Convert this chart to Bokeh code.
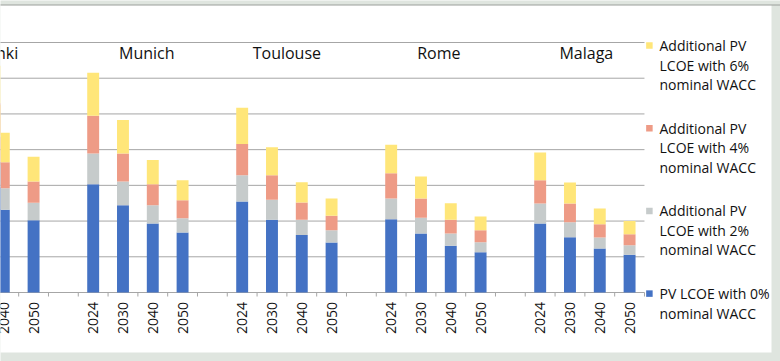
import math
from bokeh.plotting import figure
from bokeh.models import Range1d, ColumnDataSource
from bokeh.core.properties import value
from bokeh.embed import file_html
from bokeh.resources import INLINE

# ---------------- data ----------------
cities = ["Helsinki", "Munich", "Toulouse", "Rome", "Malaga"]
years = ["2024", "2030", "2040", "2050"]

# PV LCOE with 0% nominal WACC (city by city, years in the order above)
pv_0 = [36.5, 29.5, 23.2, 20.2,
        30.3, 24.4, 19.3, 16.8,
        25.5, 20.4, 16.1, 14.0,
        20.5, 16.5, 13.1, 11.3,
        19.3, 15.5, 12.3, 10.6]
# Additional LCOE with 2% nominal WACC
add_2 = [7.5, 6.3, 6.0, 4.9,
         8.6, 6.7, 5.1, 4.0,
         7.3, 5.6, 4.3, 3.4,
         5.8, 4.4, 3.4, 2.8,
         5.6, 4.2, 3.1, 2.6]
# Additional LCOE with 4% nominal WACC
add_4 = [9.0, 7.8, 7.3, 6.0,
         10.6, 7.8, 5.9, 5.0,
         8.8, 6.8, 4.8, 4.1,
         7.1, 5.4, 3.9, 3.3,
         6.5, 5.2, 3.7, 3.1]
# Additional LCOE with 6% nominal WACC
add_6 = [10.5, 9.0, 8.2, 6.9,
         12.0, 9.4, 6.8, 5.6,
         10.1, 7.9, 5.7, 4.8,
         8.0, 6.2, 4.6, 3.9,
         7.8, 5.9, 4.4, 3.7]

# legend entries, top to bottom
legend_lines = [["Additional PV", "LCOE with 6%", "nominal WACC"],
                ["Additional PV", "LCOE with 4%", "nominal WACC"],
                ["Additional PV", "LCOE with 2%", "nominal WACC"],
                ["PV LCOE with 0%", "nominal WACC"]]
y_ticks = [0, 10, 20, 30, 40, 50, 60, 70]

# ---------------- styling / layout ----------------
colors = ["#4472C4", "#C6CBCB", "#EE9B86", "#FFE679"]   # 0%, 2%, 4%, 6%
FONT = "Open Sans"
TXT = "#111111"
GRID = "#a6a6a6"
BG = "#dfe5df"
W, H = 780, 361
PX = 29.8                 # pixels per category slot
PY = 251 / 70.28          # pixels per value unit
X0 = 1.89                 # slot value at the left edge
BASE = 292                # pixel row of the value 0
slots_per_city = len(years) + 1            # 4 bars + one empty slot
x_end = len(cities) * slots_per_city - 1.5 # right edge of the plotting area
label_shift = [0.0, 0.3, 0.0, 0.1, 0.05]   # visual offsets of city captions


def sx(px):   # screen x -> slot units (for decorations / legend only)
    return X0 + px / PX


def sy(py):   # screen y (from top) -> value units
    return (BASE - py) / PY


xs, year_lab = [], []
for ci, c in enumerate(cities):
    for yi, y in enumerate(years):
        xs.append(ci * slots_per_city + yi)
        year_lab.append(y)

src = ColumnDataSource(dict(x=xs, pv_0=pv_0, add_2=add_2, add_4=add_4, add_6=add_6))

p = figure(width=W, height=H,
           x_range=Range1d(sx(0), sx(W)), y_range=Range1d(sy(H), sy(0)),
           output_backend="svg", toolbar_location=None,
           min_border_left=0, min_border_right=0,
           min_border_top=0, min_border_bottom=0)
p.axis.visible = False
p.grid.visible = False
p.outline_line_color = None
p.background_fill_color = BG
p.border_fill_color = BG

# white chart sheet with a thin top border (decoration)
p.quad(left=sx(0) - 1, right=sx(771), top=sy(4.5), bottom=sy(352),
       fill_color="white", line_color=None)
p.segment(x0=sx(0) - 1, x1=sx(W) + 1, y0=sy(4.5), y1=sy(4.5),
          line_color="#9a9e9a", line_width=1)

# horizontal grid lines
p.segment(x0=[sx(0) - 1] * len(y_ticks), x1=[x_end] * len(y_ticks),
          y0=y_ticks, y1=y_ticks, line_color=GRID, line_width=1)

# category tick marks on the boundaries between slots
bounds = [k + 0.5 for k in range(1, slots_per_city * len(cities) - 1)]
p.segment(x0=bounds, x1=bounds, y0=[0] * len(bounds), y1=[-4 / PY] * len(bounds),
          line_color=GRID, line_width=1)

# stacked bars
rs = p.vbar_stack(["pv_0", "add_2", "add_4", "add_6"], x="x", width=0.40,
                  color=colors, line_color=None, source=src)

# year labels (rotated, reading upwards) for the categories inside the view
vis = [k for k, x in enumerate(xs) if x > sx(0) - 0.5]
p.text(x=[xs[k] for k in vis], y=[-9.4 / PY] * len(vis),
       text=[year_lab[k] for k in vis], angle=math.pi / 2,
       text_font=value(FONT), text_font_size="14px", text_color=TXT,
       text_align="right", text_baseline="middle")

# city captions
cap_x = [ci * slots_per_city + (len(years) - 1) / 2 + label_shift[ci]
         for ci in range(len(cities))]
p.text(x=cap_x, y=[67.2] * len(cities), text=cities,
       text_font=value(FONT), text_font_size="16px", text_color=TXT,
       text_align="center", text_baseline="middle")

# legend
top, pitch, line_h = 45.0, 82.7, 19.5
kx, ky, kc, tx, ty, tt = [], [], [], [], [], []
for i, lines in enumerate(legend_lines):
    yc = top + i * pitch
    kx.append(sx(648.9))
    ky.append(sy(yc))
    kc.append(colors[len(colors) - 1 - i])
    for j, line in enumerate(lines):
        tx.append(sx(659))
        ty.append(sy(yc + j * line_h))
        tt.append(line)
p.scatter(x=kx, y=ky, marker="square", size=6.5, fill_color=kc, line_color=None)
p.text(x=tx, y=ty, text=tt, text_font=value(FONT), text_font_size="14px",
       text_color=TXT, text_align="left", text_baseline="middle")

open("out.html", "w").write(file_html(p, INLINE))
